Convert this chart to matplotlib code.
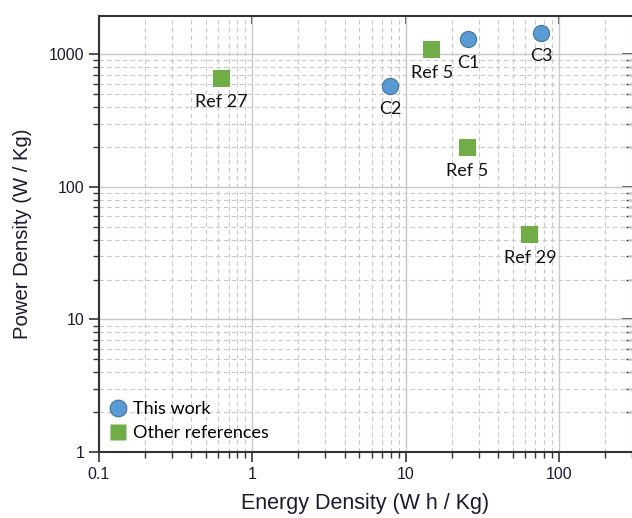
import matplotlib.pyplot as plt
from matplotlib.ticker import LogLocator, NullFormatter, FixedLocator, FixedFormatter
from matplotlib.lines import Line2D

# data (energy density W h/Kg, power density W/Kg)
work_names = ["C1", "C2", "C3"]
work_energy = [25.5, 7.9, 77.0]
work_power = [1300, 576, 1460]

ref_names = ["Ref 27", "Ref 5", "Ref 5", "Ref 29"]
ref_energy = [0.63, 14.8, 25.2, 64.7]
ref_power = [658, 1083, 198, 43.7]

x_ticks = [0.1, 1, 10, 100]
x_labels = ["0.1", "1", "10", "100"]
y_ticks = [1, 10, 100, 1000]
y_labels = ["1", "10", "100", "1000"]

blue = "#5B9BD5"
green = "#70AD47"
label_font = ["Lato", "DejaVu Sans"]
axis_font = ["Liberation Sans", "DejaVu Sans"]

fig = plt.figure(figsize=(6.32, 5.18), dpi=100)
ax = fig.add_axes([99 / 632, 1 - 452 / 518, 533 / 632, 436 / 518])
ax.set_xscale("log")
ax.set_yscale("log")
ax.set_xlim(0.1, 300)
ax.set_ylim(1, 1950)

# grid: solid majors, dashed minors
ax.grid(True, which="major", color="#c8c8c8", linewidth=1.0, linestyle="-")
ax.grid(True, which="minor", color="#c8c8c8", linewidth=0.8, linestyle=(0, (4, 3)))
ax.set_axisbelow(True)

ax.scatter(work_energy, work_power, s=135, marker="o", color=blue,
           edgecolor="#41719C", linewidth=0.8, zorder=3)
ax.scatter(ref_energy, ref_power, s=150, marker="s", color=green,
           edgecolor="none", zorder=3)

for name, xv, yv in zip(work_names + ref_names, work_energy + ref_energy, work_power + ref_power):
    ax.annotate(name, (xv, yv), xytext=(0, -11), textcoords="offset points",
                ha="center", va="top", fontsize=13, family=label_font, color="#111111")

ax.xaxis.set_major_locator(FixedLocator(x_ticks))
ax.xaxis.set_major_formatter(FixedFormatter(x_labels))
ax.yaxis.set_major_locator(FixedLocator(y_ticks))
ax.yaxis.set_major_formatter(FixedFormatter(y_labels))
ax.xaxis.set_minor_locator(LogLocator(base=10, subs=range(2, 10)))
ax.yaxis.set_minor_locator(LogLocator(base=10, subs=range(2, 10)))
ax.xaxis.set_minor_formatter(NullFormatter())
ax.yaxis.set_minor_formatter(NullFormatter())

ax.tick_params(which="major", direction="out", length=7, width=1.2, color="#333333",
               labelsize=11.5, labelcolor="#1b1b2f")
ax.tick_params(which="minor", direction="out", length=4, width=1.0, color="#333333")
for tl in ax.get_xticklabels() + ax.get_yticklabels():
    tl.set_family(axis_font)

for side in ["left", "bottom", "top"]:
    ax.spines[side].set_color("#333333")
    ax.spines[side].set_linewidth(1.5)
ax.spines["right"].set_visible(False)

# inward ticks on top and right
top = ax.secondary_xaxis("top")
top.xaxis.set_major_locator(FixedLocator(x_ticks))
top.xaxis.set_minor_locator(FixedLocator([]))
top.tick_params(which="major", direction="in", length=6, width=1.2, color="#333333", labeltop=False)
top.spines["top"].set_visible(False)
right = ax.secondary_yaxis("right")
right.yaxis.set_major_locator(FixedLocator(y_ticks))
right.yaxis.set_minor_locator(LogLocator(base=10, subs=range(2, 10)))
right.tick_params(which="major", direction="in", length=7, width=1.2, color="#333333", labelright=False)
right.tick_params(which="minor", direction="in", length=4, width=1.0, color="#333333")
right.yaxis.set_minor_formatter(NullFormatter())
right.spines["right"].set_visible(False)

ax.set_xlabel("Energy Density (W h / Kg)", fontsize=15.5, family=axis_font, color="#1b1b2f", labelpad=8)
ax.set_ylabel("Power Density (W / Kg)", fontsize=14.6, family=axis_font, color="#1b1b2f", labelpad=12)

handles = [
    Line2D([], [], marker="o", linestyle="none", markersize=12, markerfacecolor=blue,
           markeredgecolor="#41719C", markeredgewidth=0.8),
    Line2D([], [], marker="s", linestyle="none", markersize=12, markerfacecolor=green,
           markeredgecolor="none"),
]
ax.legend(handles, ["This work", "Other references"], loc="lower left",
          bbox_to_anchor=(-0.015, -0.012), frameon=False, handletextpad=0.2,
          labelspacing=0.45, prop={"family": label_font, "size": 13}, handlelength=1.2)

fig.savefig("out.png", dpi=100)
